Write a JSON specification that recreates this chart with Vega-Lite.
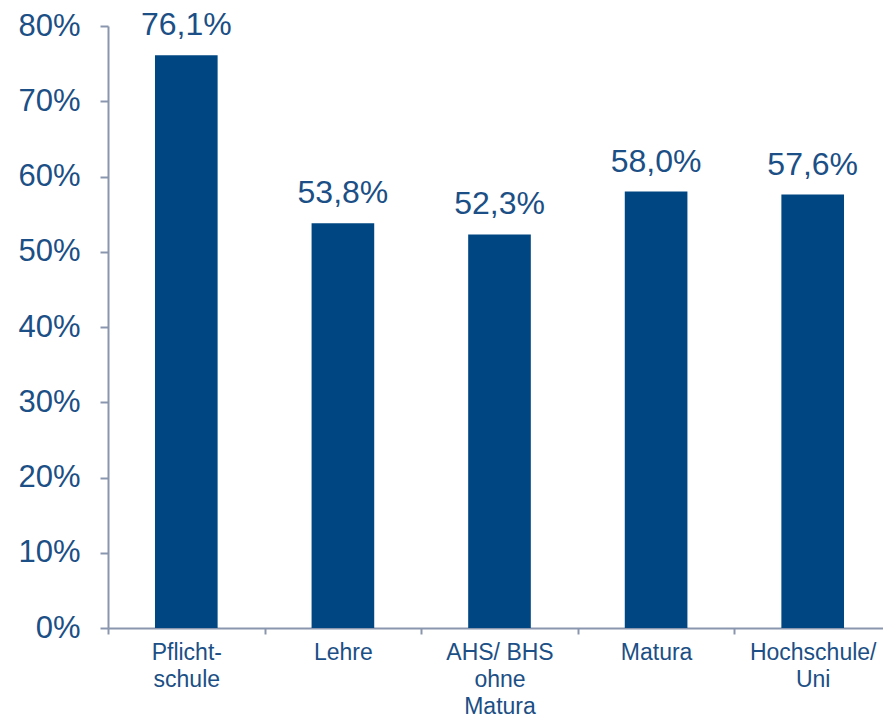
{
  "$schema": "https://vega.github.io/schema/vega-lite/v6.json",
  "width": 775,
  "height": 602,
  "autosize": {"type": "none"},
  "padding": {"left": 108, "top": 26, "right": 0, "bottom": 95},
  "background": "white",
  "config": {
    "view": {"stroke": null},
    "font": "Liberation Sans",
    "locale": {"number": {"decimal": ",", "thousands": ".", "grouping": [3], "currency": ["", " €"]}}
  },
  "data": {
    "values": [
      {"kategorie": "Pflicht-|schule", "wert": 0.761},
      {"kategorie": "Lehre", "wert": 0.538},
      {"kategorie": "AHS/ BHS|ohne|Matura", "wert": 0.523},
      {"kategorie": "Matura", "wert": 0.580},
      {"kategorie": "Hochschule/|Uni", "wert": 0.576}
    ]
  },
  "encoding": {
    "x": {
      "field": "kategorie",
      "type": "nominal",
      "sort": null,
      "scale": {"range": [0, 783], "paddingInner": 0, "paddingOuter": 0},
      "axis": {
        "title": null,
        "labelAngle": 0,
        "labelExpr": "split(datum.label, '|')",
        "labelFontSize": 23,
        "labelLineHeight": 27,
        "labelColor": "#1B4F85",
        "labelPadding": 7,
        "labelBaseline": "top",
        "tickBand": "extent",
        "tickSize": 6,
        "tickColor": "#8A96AE",
        "domainColor": "#8A96AE",
        "domainWidth": 2,
        "tickWidth": 2,
        "grid": false
      }
    },
    "y": {
      "field": "wert",
      "type": "quantitative",
      "scale": {"domain": [0, 0.8], "nice": false},
      "axis": {
        "title": null,
        "format": ".0%",
        "values": [0, 0.1, 0.2, 0.3, 0.4, 0.5, 0.6, 0.7, 0.8],
        "labelFontSize": 31,
        "labelColor": "#1B4F85",
        "labelPadding": 20,
        "tickSize": 8,
        "tickColor": "#8A96AE",
        "domainColor": "#8A96AE",
        "domainWidth": 2,
        "tickWidth": 2,
        "grid": false
      }
    }
  },
  "layer": [
    {"mark": {"type": "bar", "color": "#004682", "width": {"band": 0.4}}},
    {
      "mark": {"type": "text", "baseline": "alphabetic", "dy": -20, "fontSize": 32, "color": "#1B4F85"},
      "encoding": {"text": {"field": "wert", "type": "quantitative", "format": ".1%"}}
    }
  ]
}
